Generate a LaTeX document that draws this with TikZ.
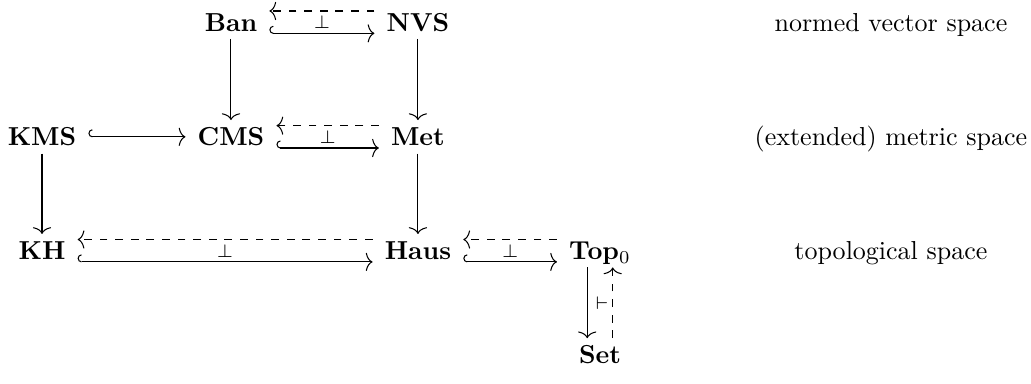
\documentclass[tikz,border=0pt]{standalone}
\usepackage{amssymb,amsmath}
\usetikzlibrary{math}
\usetikzlibrary{arrows.meta}
\tikzset{>={Computer Modern Rightarrow[length=2.6pt,width=7pt]},
cat/.style={inner xsep=4.5pt, inner ysep=2.8pt, text height=6.9pt, text depth=0pt, font=\bfseries},
lbl/.style={inner sep=0pt, text height=6.9pt, text depth=0pt},
incl/.style={{Hooks[right,length=1.5pt,width=5.8pt]}->},
adjtop/.style={->, dashed, transform canvas={yshift=4.3pt}},
adjbot/.style={incl, transform canvas={yshift=-4.3pt}},
adjsym/.style={inner sep=0pt}}

\begin{document}
\begin{tikzpicture}
	\tikzmath{\ca=0.568; \cb=3.123; \cc=5.651; \cd=8.112; \ce=12.046;
	\ra=4.88; \rb=3.33; \rc=1.79; \rd=0.38;
	\w=13.94; \h=5.18;
	}
	\useasboundingbox (0,0) rectangle (\w,\h);
	% categories
	\node[cat] (ban) at (\cb,\ra) {Ban};
	\node[cat] (nvs) at (\cc,\ra) {NVS};
	\node[cat] (kms) at (\ca,\rb) {KMS};
	\node[cat] (cms) at (\cb,\rb) {CMS};
	\node[cat] (met) at (\cc,\rb) {Met};
	\node[cat] (kh) at (\ca,\rc) {KH};
	\node[cat] (haus) at (\cc,\rc) {Haus};
	\node[cat] (top) at (\cd,\rc) {Top$_0$};
	\node[cat] (set) at (\cd,\rd) {Set};
	% right column
	\node[lbl] (lnvs) at (\ce,\ra) {normed vector space};
	\node[lbl] (lmet) at (\ce,\rb) {(extended) metric space};
	\node[lbl] (ltop) at (\ce,\rc) {topological space};
	% adjunctions
	\draw[adjtop] (nvs) -- (ban);
	\draw[adjbot] (ban) -- (nvs);
	\path (ban) -- node[adjsym]{$\scriptstyle\perp$} (nvs);
	\draw[adjtop] (met) -- (cms);
	\draw[adjbot] (cms) -- (met);
	\path (cms) -- node[adjsym]{$\scriptstyle\perp$} (met);
	\draw[adjtop] (haus) -- (kh);
	\draw[adjbot] (kh) -- (haus);
	\path (kh) -- node[adjsym]{$\scriptstyle\perp$} (haus);
	\draw[adjtop] (top) -- (haus);
	\draw[adjbot] (haus) -- (top);
	\path (haus) -- node[adjsym]{$\scriptstyle\perp$} (top);
	\draw[->, transform canvas={xshift=-4.9pt}] (top) -- (set);
	\draw[->, dashed, transform canvas={xshift=4.9pt}] (set) -- (top);
	\path (top) -- node[adjsym, xshift=0.8pt]{$\scriptstyle\vdash$} (set);
	% other arrows
	\draw[incl] (kms) -- (cms);
	\draw[->] (ban) -- (cms);
	\draw[->] (nvs) -- (met);
	\draw[->] (met) -- (haus);
	\draw[->] (kms) -- (kh);
\end{tikzpicture}
\end{document}
